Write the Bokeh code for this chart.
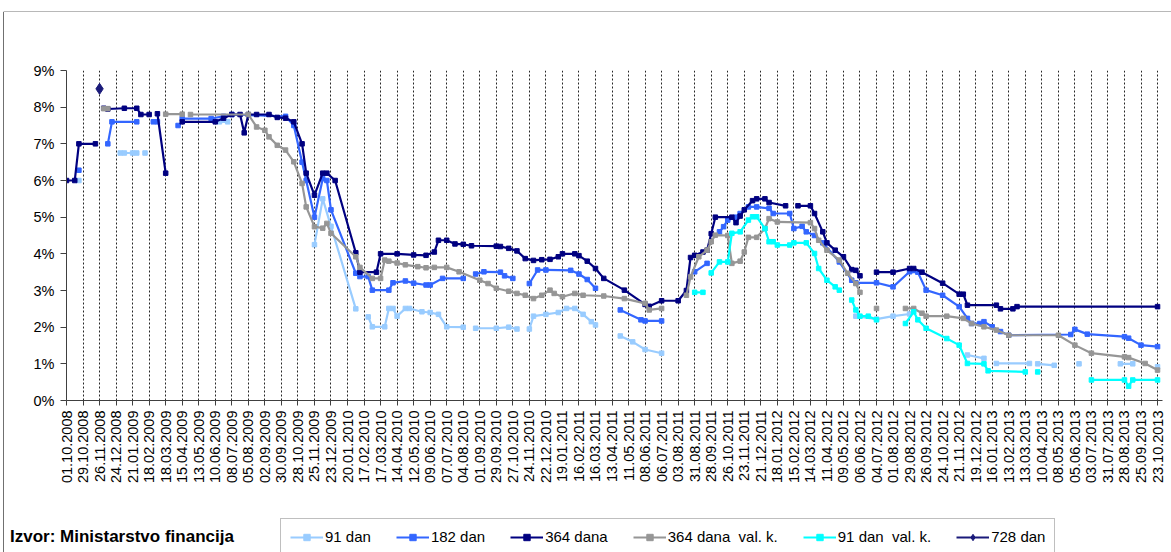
import numpy as np
from datetime import datetime
from bokeh.plotting import figure
from bokeh.layouts import column, row
from bokeh.models import FixedTicker, Legend, LegendItem, Range1d, Div, Spacer
from bokeh.embed import file_html
from bokeh.resources import INLINE

N = None
tick_labels = [
    "01.10.2008", "29.10.2008", "26.11.2008", "24.12.2008",
    "21.01.2009", "18.02.2009", "18.03.2009", "15.04.2009", "13.05.2009", "10.06.2009", "08.07.2009",
    "05.08.2009", "02.09.2009", "30.09.2009", "28.10.2009", "25.11.2009", "23.12.2009",
    "20.01.2010", "17.02.2010", "17.03.2010", "14.04.2010", "12.05.2010", "09.06.2010", "07.07.2010",
    "04.08.2010", "01.09.2010", "29.09.2010", "27.10.2010", "24.11.2010", "22.12.2010",
    "19.01.2011", "16.02.2011", "16.03.2011", "13.04.2011", "11.05.2011", "08.06.2011", "06.07.2011",
    "03.08.2011", "31.08.2011", "28.09.2011", "26.10.2011", "23.11.2011", "21.12.2011",
    "18.01.2012", "15.02.2012", "14.03.2012", "11.04.2012", "09.05.2012", "06.06.2012", "04.07.2012",
    "01.08.2012", "29.08.2012", "26.09.2012", "24.10.2012", "21.11.2012", "19.12.2012",
    "16.01.2013", "13.02.2013", "13.03.2013", "10.04.2013", "08.05.2013", "05.06.2013", "03.07.2013",
    "31.07.2013", "28.08.2013", "25.09.2013", "23.10.2013",
]

# (week since 01.10.2008, rate %)  None = gap
s91 = [(3, 6.0), N, (13, 6.75), (14, 6.75), (16, 6.75), (17, 6.75), N, (19, 6.75), N,
       (37, 7.6), (39, 7.6), N, (60, 4.25), (62, 5.5), (64, 4.75), (70, 2.5), N,
       (73, 2.28), (74, 2.01), (77, 2.01), (78, 2.51), (79, 2.51), (80, 2.3), (82, 2.51), (83, 2.51),
       (86, 2.42), (88, 2.4), (90, 2.35), (92, 2.01), (96, 2.0), N,
       (99, 1.97), (104, 1.97), (107, 2.0), (109, 1.95), N,
       (112, 1.95), (113, 2.3), (116, 2.35), (119, 2.4), (121, 2.51), (123, 2.51), (125, 2.35),
       (127, 2.15), (128, 2.06), N, (134, 1.76), (137, 1.6), (140, 1.39), (144, 1.29), N,
       (191, 2.3), (196, 2.22), (200, 2.3), (204, 2.36), N, (218, 1.24), (222, 1.15), N,
       (225, 1.01), (233, 1.01), N, (235, 1.0), (239, 0.96), N, (245, 1.0), N,
       (255, 1.0), (258, 1.0), N, (264, 0.92)]

s182 = [(3, 6.28), N, (10, 7.0), (11, 7.6), (17, 7.6), N, (21, 7.6), (22, 7.6), N, (27, 7.5), N,
        (28, 7.69), (35, 7.69), (38, 7.75), (40, 7.8), (53, 7.75), (55, 7.5), (57, 6.5), (58, 6.0),
        (60, 5.0), (62, 6.05), (63, 6.0), (64, 5.2), (70, 3.47), (71, 3.38), (73, 3.38), (74, 3.01),
        (78, 3.01), (79, 3.21), (82, 3.26), (84, 3.2), (87, 3.15), (88, 3.15), (91, 3.33), (96, 3.33), N,
        (99, 3.45), (101, 3.51), (105, 3.5), (106, 3.4), (108, 3.33), N,
        (112, 3.19), (114, 3.56), (116, 3.56), (122, 3.55), (124, 3.45), (126, 3.3), (128, 3.06), N,
        (134, 2.47), (139, 2.2), (140, 2.17), (144, 2.17), N, (152, 3.51), (155, 3.74), N,
        (158, 4.6), (159, 4.74), (160, 4.92), (162, 5.0), (163, 5.1), (165, 5.28), (167, 5.28),
        (170, 5.24), (171, 5.1), (175, 5.1), (176, 4.69), (178, 4.75), (179, 4.6), (181, 4.5),
        (183, 4.3), (187, 3.78), (190, 3.28), (191, 3.21), (196, 3.21), (200, 3.1), (204, 3.51),
        (206, 3.5), (208, 3.01), (212, 2.87), (216, 2.56), (218, 2.24), (219, 2.1), (221, 2.1),
        (222, 2.15), (224, 2.01), (226, 1.88), (228, 1.78), (243, 1.8), (244, 1.94), (247, 1.81),
        (256, 1.74), (257, 1.7), (260, 1.51), (264, 1.47)]

s364 = [(0, 6.0), (2, 6.0), (3, 7.0), (7, 7.0), N,
        (9, 7.97), (10, 7.95), (14, 7.97), (17, 7.97), (18, 7.8), (20, 7.8), N, (22, 7.82), (24, 6.2), N,
        (28, 7.6), (36, 7.6), (38, 7.7), (40, 7.8), (42, 7.8), (43, 7.3), (44, 7.8), (46, 7.8), (49, 7.8),
        (51, 7.72), (53, 7.7), (55, 7.6), (57, 7.0), (58, 6.2), (60, 5.6), (62, 6.2), (63, 6.2), (65, 6.0),
        (70, 4.03), (71, 3.5), (75, 3.5), (76, 4.0), (80, 4.0), (84, 3.97), (87, 3.96), (89, 4.05),
        (90, 4.37), (92, 4.37), (94, 4.27), (96, 4.26), (98, 4.22), (104, 4.21), (105, 4.2), (107, 4.15),
        (109, 4.08), (111, 3.87), (113, 3.82), (115, 3.84), (117, 3.85), (119, 3.92), (120, 4.0),
        (123, 4.0), (124, 3.95), (126, 3.8), (128, 3.6), (130, 3.33), (135, 3.01), (140, 2.62),
        (141, 2.57), (144, 2.72), (148, 2.72), (150, 3.0), (151, 3.9), (152, 3.96), (154, 4.05),
        (155, 4.1), (156, 4.55), (157, 5.0), (161, 5.0), (162, 4.85), (163, 5.03), (164, 5.2),
        (166, 5.45), (167, 5.5), (169, 5.5), (170, 5.4), (174, 5.31), N,
        (177, 5.31), (180, 5.31), (181, 5.1), (183, 4.6), (184, 4.3), (186, 4.1), (188, 3.92),
        (190, 3.57), (191, 3.55), (192, 3.4), N,
        (196, 3.5), (200, 3.5), (204, 3.6), (205, 3.6), (207, 3.5), (212, 3.2), (216, 2.9), (217, 2.9),
        (218, 2.6), (225, 2.6), (226, 2.5), (229, 2.5), (230, 2.56), (264, 2.56)]

s364vk = [(9, 7.96), (10, 7.96), N, (24, 7.81), (28, 7.81), N,
          (30, 7.8), (44, 7.8), (46, 7.46), (48, 7.37), (49, 7.19), (51, 6.96), (53, 6.83), (55, 6.51),
          (57, 5.92), (58, 5.28), (60, 4.74), (62, 4.7), (63, 4.83), (64, 4.56), (70, 3.92), (71, 3.63),
          (74, 3.33), (76, 3.33), (77, 3.83), (78, 3.8), (80, 3.75), (82, 3.7), (85, 3.65), (87, 3.62),
          (89, 3.63), (92, 3.63), (95, 3.51), (100, 3.28), (102, 3.19), (104, 3.06), (107, 2.98),
          (109, 2.92), (111, 2.87), (113, 2.78), (115, 2.87), (117, 3.01), (118, 2.92), (120, 2.83),
          (123, 2.92), (125, 2.87), (130, 2.85), (135, 2.78), (140, 2.65), (141, 2.47), (144, 2.51), N,
          (150, 2.87), (151, 3.37), (153, 3.92), (155, 4.1), (156, 4.33), (157, 4.51), (160, 4.5),
          (161, 3.74), (163, 3.8), (164, 4.05), (165, 4.45), (167, 4.45), (169, 4.69), (170, 4.96),
          (172, 4.87), (180, 4.85), (181, 4.69), (182, 4.37), (184, 4.1), (187, 3.83), (189, 3.47),
          (191, 3.19), (192, 2.95), N, (196, 2.51), N,
          (203, 2.51), (205, 2.51), (207, 2.38), (208, 2.3), (213, 2.3), (217, 2.24), (219, 2.1),
          (222, 2.01), (225, 1.92), (228, 1.78), (240, 1.78), (244, 1.51), (248, 1.29), (256, 1.19),
          (257, 1.17), (261, 1.01), (264, 0.83)]

s91vk = [(152, 2.95), (154, 2.95), N,
         (156, 3.48), (158, 3.78), (160, 3.78), (161, 4.56), (163, 4.6), (165, 4.92), (166, 5.01),
         (167, 5.01), (169, 4.69), (170, 4.33), (171, 4.33), (172, 4.24), (175, 4.24), (176, 4.3),
         (179, 4.3), (181, 4.01), (182, 3.6), (184, 3.28), (186, 3.1), (187, 3.01), N,
         (190, 2.74), (191, 2.47), (192, 2.3), (194, 2.3), (196, 2.2), N,
         (203, 2.1), (205, 2.42), (206, 2.2), (208, 1.97), (213, 1.69), (216, 1.51), (218, 1.01),
         (222, 1.0), (223, 0.81), (232, 0.78), N, (235, 0.78), N,
         (248, 0.56), (256, 0.56), (257, 0.39), (258, 0.56), (264, 0.56)]

s728 = [(8, 8.5)]

series_names = ["91 dan", "182 dan", "364 dana", "364 dana  val. k.", "91 dan  val. k.", "728 dan"]
series_colors = ["#99CCFF", "#3366FF", "#000080", "#969696", "#00FFFF", "#1A1A7A"]
series_markers = ["square", "square", "square", "square", "square", "diamond"]
series_data = [s91, s182, s364, s364vk, s91vk, s728]
source_text = "Izvor: Ministarstvo financija"

FONT = "Liberation Sans"
FRAME_COLOR = "#707070"
d0 = datetime.strptime(tick_labels[0], "%d.%m.%Y")
tick_w = [int(round((datetime.strptime(t, "%d.%m.%Y") - d0).days / 7)) for t in tick_labels]

W = 1167
p = figure(width=W, height=488, output_backend="svg", toolbar_location=None,
           x_range=Range1d(0, 265.2), y_range=Range1d(0, 9),
           min_border_left=62, min_border_right=9, min_border_top=58, min_border_bottom=100)
p.outline_line_color = None
p.background_fill_color = "white"
p.border_fill_color = "white"

p.xaxis.ticker = FixedTicker(ticks=tick_w)
p.xaxis.major_label_overrides = {w: t for w, t in zip(tick_w, tick_labels)}
p.xaxis.major_label_orientation = np.pi / 2
p.xaxis.major_label_text_font = FONT
p.xaxis.major_label_text_font_size = "14.5px"
p.xaxis.major_label_text_color = "#000000"
p.xaxis.major_label_standoff = 5
p.xaxis.minor_tick_line_color = None
p.xaxis.major_tick_out = 5
p.xaxis.major_tick_in = 0
p.xaxis.axis_line_color = "#404040"
p.xaxis.major_tick_line_color = "#404040"

p.yaxis.ticker = FixedTicker(ticks=list(range(10)))
p.yaxis.major_label_overrides = {i: f"{i}%" for i in range(10)}
p.yaxis.major_label_text_font = FONT
p.yaxis.major_label_text_font_size = "14.5px"
p.yaxis.major_label_text_color = "#000000"
p.yaxis.minor_tick_line_color = None
p.yaxis.major_tick_out = 6
p.yaxis.major_tick_in = 0
p.yaxis.major_label_standoff = 6
p.yaxis.axis_line_color = "#404040"
p.yaxis.major_tick_line_color = "#404040"

p.ygrid.visible = False
p.xgrid.ticker = FixedTicker(ticks=tick_w[1:])
p.xgrid.grid_line_color = "#000000"
p.xgrid.grid_line_dash = "2 2"
p.xgrid.grid_line_width = 1
p.xgrid.grid_line_alpha = 0.85

# legend strip
LW = 897
p2 = figure(width=LW, height=52, output_backend="svg", toolbar_location=None,
            x_range=Range1d(0, LW), y_range=Range1d(0, 52),
            x_axis_type=None, y_axis_type=None,
            min_border_left=0, min_border_right=0, min_border_top=0, min_border_bottom=0)
p2.outline_line_color = None
p2.background_fill_color = "white"
p2.border_fill_color = "white"

items = []
for name, color, mk, data in zip(series_names, series_colors, series_markers, series_data):
    xs = np.array([np.nan if pt is None else pt[0] for pt in data], dtype=float)
    ys = np.array([np.nan if pt is None else pt[1] for pt in data], dtype=float)
    msize = 11 if mk == "diamond" else 4.5
    p.line(xs, ys, line_color=color, line_width=2.2)
    p.scatter(xs, ys, marker=mk, size=msize, color=color)
    # off-canvas stand-ins so the legend strip can draw the glyphs
    lr = p2.line([-500, -490], [-500, -500], line_color=color, line_width=2)
    sr = p2.scatter([-500], [-500], marker=mk, size=(9 if mk == "diamond" else 5), color=color)
    items.append(LegendItem(label=name, renderers=[lr, sr]))

legend = Legend(items=items, orientation="horizontal", location=(6, -3),
                label_text_font=FONT, label_text_font_size="15px", label_text_color="#000000",
                glyph_width=33, glyph_height=16, label_height=16, label_standoff=2,
                spacing=25, padding=9, margin=0,
                border_line_color="#808080", border_line_width=1,
                background_fill_color="white", background_fill_alpha=1.0)
p2.add_layout(legend, "center")

izvor = Div(width=270, height=52, margin=0,
            text=f'<div style="margin:0;padding:27px 0 0 6px;font-family:\'{FONT}\';'
                 f'font-weight:bold;font-size:17px;line-height:19px;color:#000;white-space:nowrap;">'
                 f'{source_text}</div>')

# thin frame lines round the chart (top and left edges, as in the source image)
top_band = figure(width=1171, height=12, output_backend="svg", toolbar_location=None,
                  x_range=Range1d(0, 1171), y_range=Range1d(0, 12),
                  x_axis_type=None, y_axis_type=None,
                  min_border_left=0, min_border_right=0, min_border_top=0, min_border_bottom=0)
top_band.outline_line_color = None
top_band.background_fill_color = "white"
top_band.border_fill_color = "white"
top_band.segment(x0=[3], y0=[0.5], x1=[1171], y1=[0.5], line_color=FRAME_COLOR, line_width=1)

left_line = Div(width=1, height=540, margin=0,
                text=f'<div style="width:1px;height:540px;background:{FRAME_COLOR};"></div>')

inner = column(p, row(izvor, p2, spacing=0, margin=0), spacing=0, margin=0)
layout = column(top_band,
                row(Spacer(width=3, height=540, margin=0), left_line, inner, spacing=0, margin=0),
                spacing=0, margin=0)

open("out.html", "w").write(file_html(layout, INLINE))
